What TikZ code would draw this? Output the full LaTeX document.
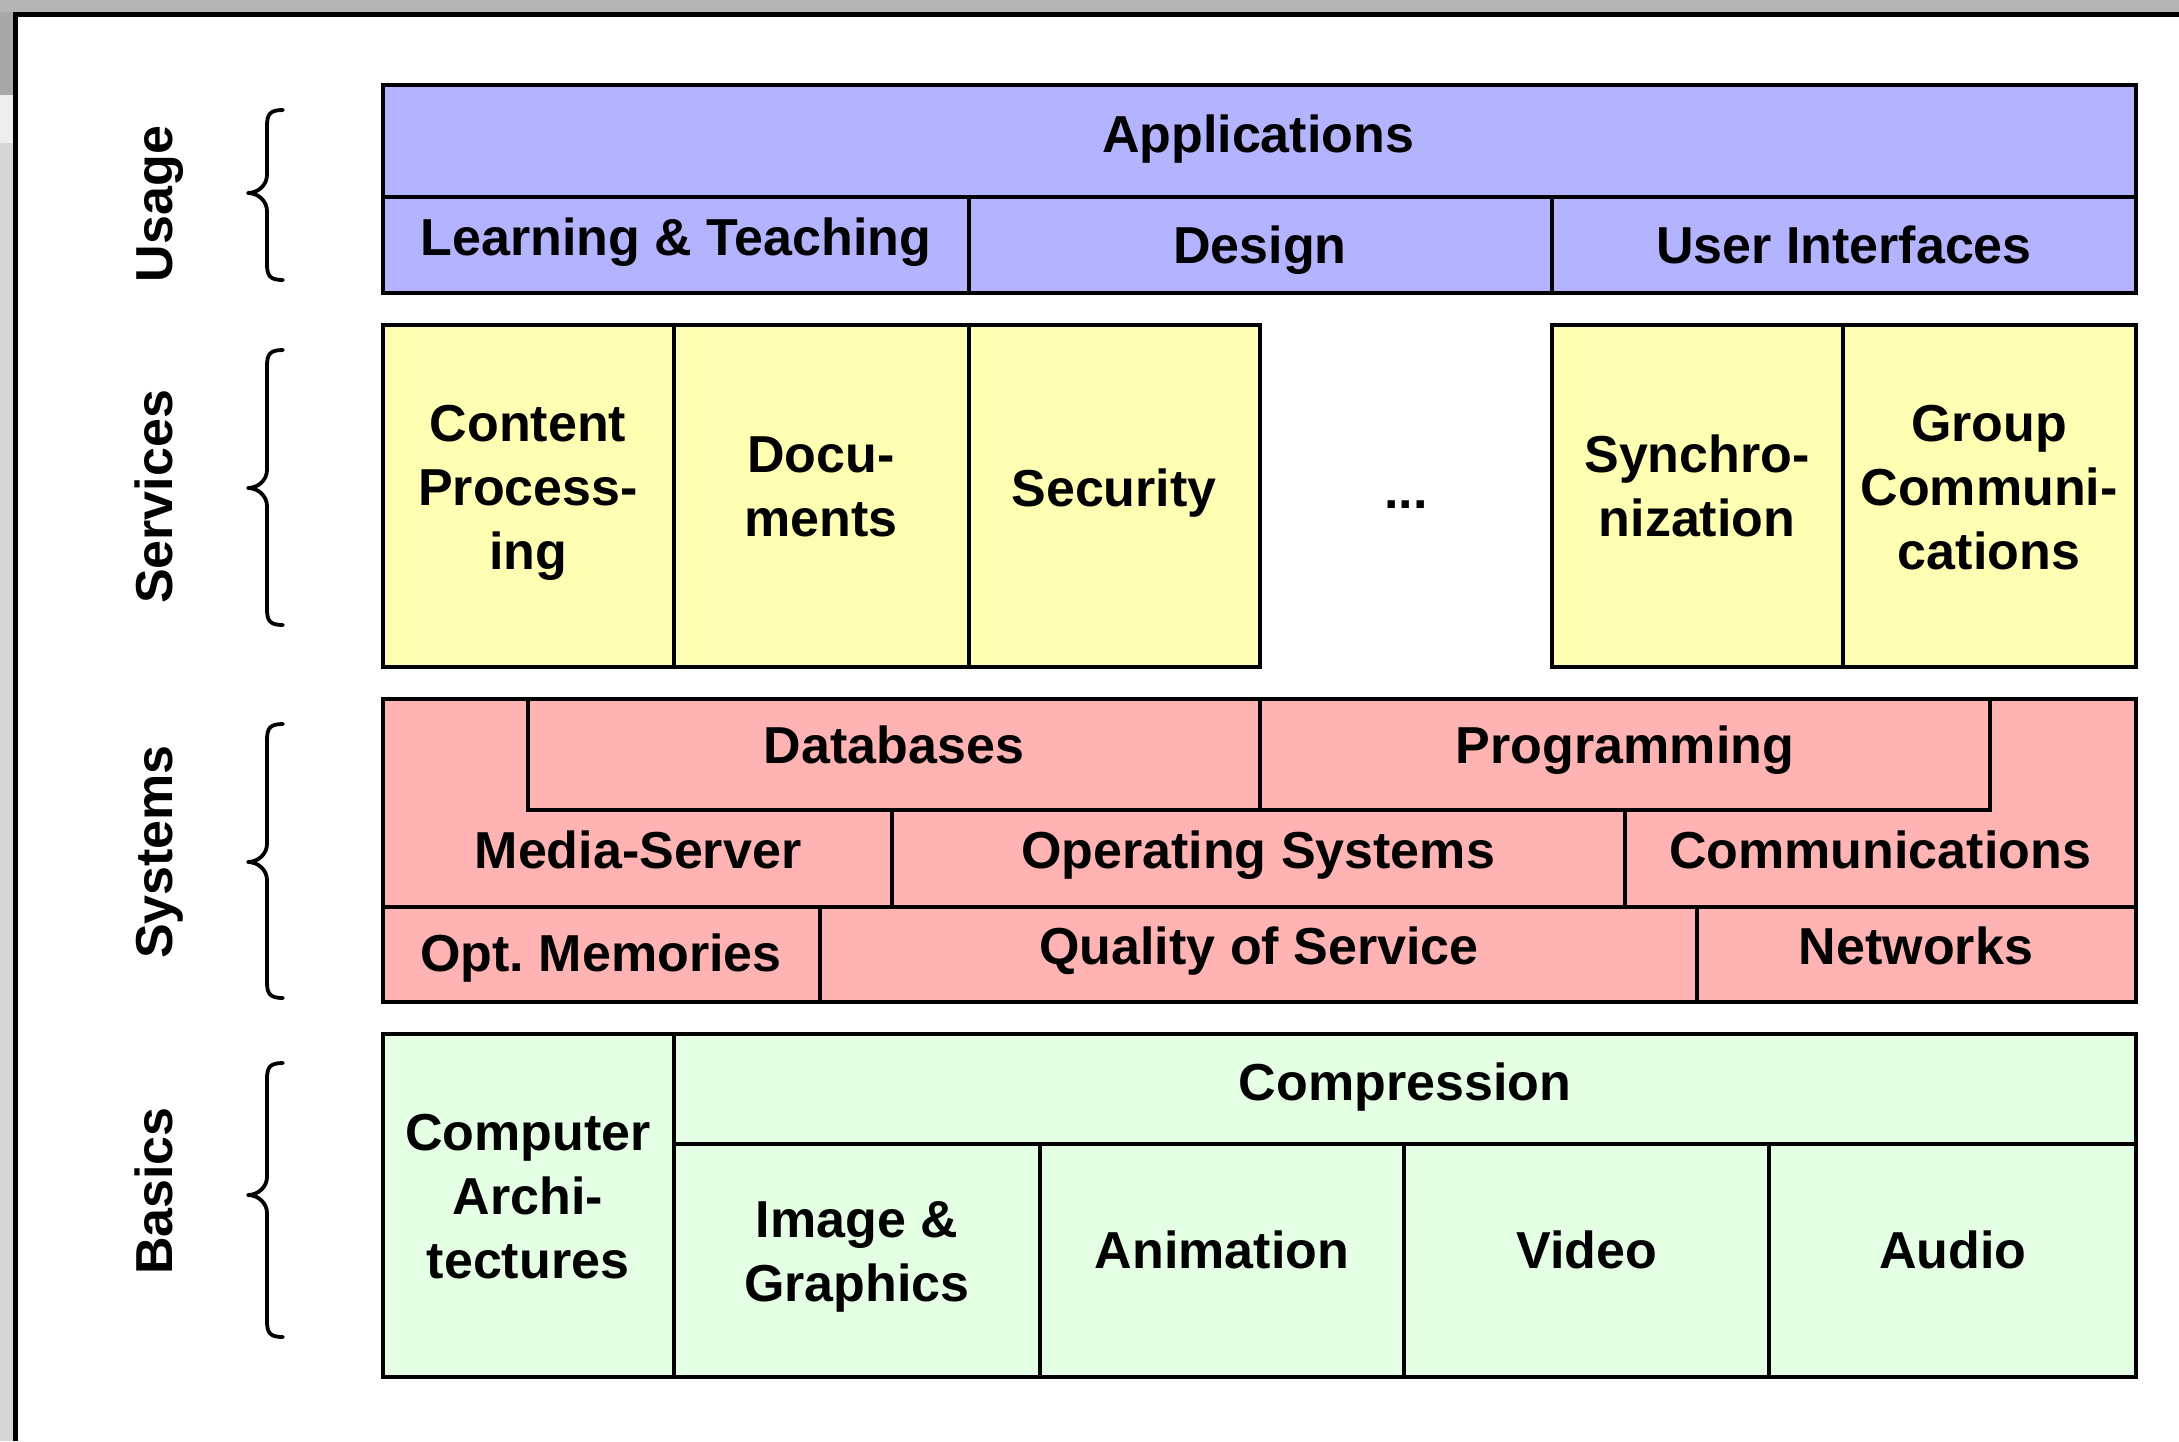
\documentclass[tikz,border=0pt]{standalone}
\usepackage{fontspec}
\setmainfont{Liberation Sans}
\frenchspacing
\definecolor{ublue}{HTML}{B3B3FF}
\definecolor{uyellow}{HTML}{FFFFB3}
\definecolor{ured}{HTML}{FFB3B3}
\definecolor{ugreen}{HTML}{E4FFE4}
\definecolor{framegray}{HTML}{B4B4B4}
\definecolor{leftgray}{HTML}{D6D6D6}
\definecolor{leftdark}{HTML}{A8A8A8}
\definecolor{leftlight}{HTML}{EEEEEE}
\tikzset{
  cellbox/.style={draw=black, line width=4.5pt, inner sep=0pt, outer sep=0pt},
  lbl/.style={font=\fontsize{52}{64}\selectfont\bfseries, inner sep=0pt, outer sep=0pt, anchor=base},
  side/.style={lbl, rotate=90},
  bracepath/.style={line width=3.8pt, line cap=round, line join=round},
  divider/.style={line width=4.5pt}
}
\newcommand\cellnode[6]{\node[cellbox, fill=#6, minimum width={(#4-#2)*1pt}, minimum height={(#5-#3)*1pt}] (#1) at ({(#2+#4)/2},{(#3+#5)/2}) {};}
\newcommand\stk[1]{\begin{tabular}[t]{@{}c@{}}#1\end{tabular}}
\newcommand\sidebrace[3]{%
  \draw[bracepath] (283,#1) .. controls (270,#1) and (267,{#1+4}) .. (267,{#1+16})
    -- (267,{#2-18}) .. controls (267,{#2-8}) and (258,#2) .. (248,#2)
    .. controls (258,#2) and (267,{#2+8}) .. (267,{#2+18})
    -- (267,{#3-16}) .. controls (267,{#3-4}) and (270,#3) .. (283,#3);}
\begin{document}
\begin{tikzpicture}[x=1pt,y=-1pt]
\useasboundingbox (0,0) rectangle (2179,1441);
\fill[white] (0,0) rectangle (2179,1441);
% window frame
\fill[framegray] (0,0) rectangle (2179,12);
\fill[leftgray] (0,12) rectangle (13,1441);
\fill[leftdark] (0,12) rectangle (13,95);
\fill[leftlight] (0,95) rectangle (13,143);
\draw[black, line width=5.5pt] (15.5,1441) -- (15.5,14.5) -- (2179,14.5);

% ---------- Usage ----------
\cellnode{app}{383}{85}{2136}{197}{ublue}
\cellnode{learn}{383}{197}{969}{293}{ublue}
\cellnode{design}{969}{197}{1552}{293}{ublue}
\cellnode{ui}{1552}{197}{2136}{293}{ublue}
\node[lbl] (tapp) at (1258,152) {Applications};
\node[lbl] (tlearn) at (676,255) {Learning \& Teaching};
\node[lbl] (tdesign) at (1260,263) {Design};
\node[lbl] (tui) at (1844,263) {User Interfaces};

% ---------- Services ----------
\cellnode{content}{383}{325}{674}{667}{uyellow}
\cellnode{docs}{674}{325}{969}{667}{uyellow}
\cellnode{sec}{969}{325}{1260}{667}{uyellow}
\cellnode{sync}{1552}{325}{1843}{667}{uyellow}
\cellnode{group}{1843}{325}{2136}{667}{uyellow}
\node[lbl] (tcontent) at (528,441) {\stk{Content\\Process-\\ing}};
\node[lbl] (tdocs) at (821,472) {\stk{Docu-\\ments}};
\node[lbl] (tsec) at (1114,506) {Security};
\node[lbl] (tdots) at (1406,508) {...};
\node[lbl] (tsync) at (1697,472) {\stk{Synchro-\\nization}};
\node[lbl] (tgroup) at (1989,441) {\stk{Group\\Communi-\\cations}};

% ---------- Systems ----------
\cellnode{sys}{383}{699}{2136}{1002}{ured}
\cellnode{db}{528}{699}{1260}{810}{ured}
\cellnode{prog}{1260}{699}{1990}{810}{ured}
\draw[divider] (sys.west |- 0,907) -- (sys.east |- 0,907);
\draw[divider] (892,810) -- (892,907);
\draw[divider] (1625,810) -- (1625,907);
\draw[divider] (820,907) -- (820,1002);
\draw[divider] (1697,907) -- (1697,1002);
\node[lbl] (tdb) at (894,763) {Databases};
\node[lbl] (tprog) at (1625,763) {Programming};
\node[lbl] (tmedia) at (638,868) {Media-Server};
\node[lbl] (tos) at (1258,868) {Operating Systems};
\node[lbl] (tcomm) at (1880,868) {Communications};
\node[lbl] (topt) at (601,971) {Opt. Memories};
\node[lbl] (tqos) at (1259,964) {Quality of Service};
\node[lbl] (tnet) at (1916,964) {Networks};

% ---------- Basics ----------
\cellnode{bas}{383}{1034}{2136}{1377}{ugreen}
\cellnode{ca}{383}{1034}{674}{1377}{ugreen}
\cellnode{comp}{674}{1034}{2136}{1144}{ugreen}
\cellnode{img}{674}{1144}{1040}{1377}{ugreen}
\cellnode{anim}{1040}{1144}{1404}{1377}{ugreen}
\cellnode{video}{1404}{1144}{1769}{1377}{ugreen}
\cellnode{audio}{1769}{1144}{2136}{1377}{ugreen}
\node[lbl] (tca) at (528,1150) {\stk{Computer\\Archi-\\tectures}};
\node[lbl] (tcomp) at (1405,1100) {Compression};
\node[lbl] (timg) at (857,1237) {\stk{Image \&\\Graphics}};
\node[lbl] (tanim) at (1222,1268) {Animation};
\node[lbl] (tvideo) at (1587,1268) {Video};
\node[lbl] (taudio) at (1953,1268) {Audio};

% ---------- side labels and braces ----------
\node[side] (lusage) at (172,204) {Usage};
\node[side] (lservices) at (172,497) {Services};
\node[side] (lsystems) at (172,852) {Systems};
\node[side] (lbasics) at (172,1191) {Basics};
\sidebrace{110}{193}{280}
\sidebrace{350}{488}{625}
\sidebrace{724}{862}{998}
\sidebrace{1063}{1195}{1337}
\end{tikzpicture}
\end{document}
